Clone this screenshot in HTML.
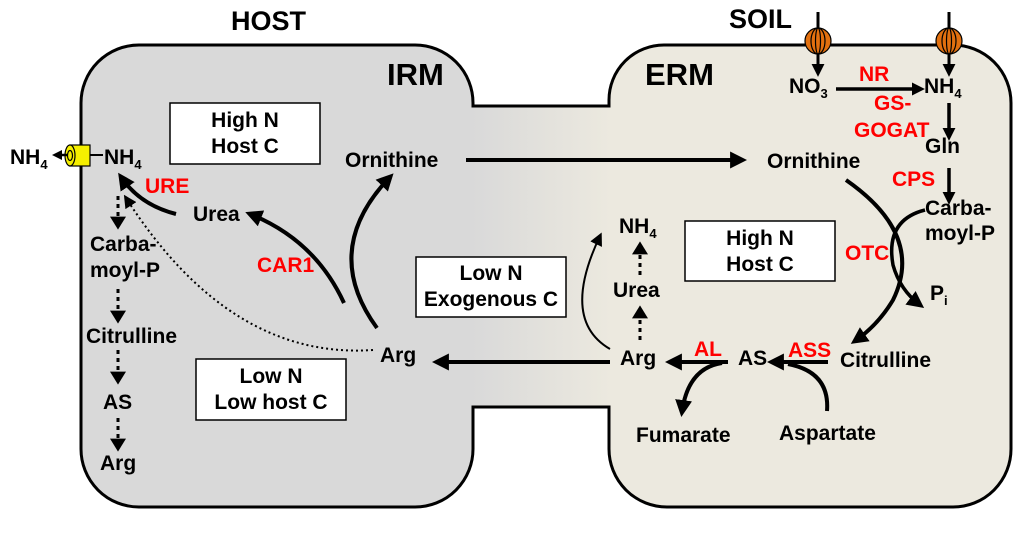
<!DOCTYPE html>
<html><head><meta charset="utf-8"><style>
html,body{margin:0;padding:0;background:#fff}
svg{display:block}
text{font-family:"Liberation Sans",Arial,sans-serif;font-weight:bold}
</style></head><body>
<svg width="1024" height="533" viewBox="0 0 1024 533" xmlns="http://www.w3.org/2000/svg">
<defs>
<linearGradient id="g" x1="81" y1="0" x2="1011" y2="0" gradientUnits="userSpaceOnUse">
<stop offset="0" stop-color="#d9d9d9"/><stop offset="0.42" stop-color="#d9d9d9"/>
<stop offset="0.57" stop-color="#ece9df"/><stop offset="1" stop-color="#ece9df"/></linearGradient>
<marker id="a" viewBox="0 0 10 10" refX="7" refY="5" markerWidth="17" markerHeight="17" orient="auto" markerUnits="userSpaceOnUse"><path d="M0,0L10,5L0,10z" fill="#000"/></marker>
<marker id="m" viewBox="0 0 10 10" refX="7" refY="5" markerWidth="13" markerHeight="13" orient="auto" markerUnits="userSpaceOnUse"><path d="M0,0L10,5L0,10z" fill="#000"/></marker>
<marker id="s" viewBox="0 0 10 10" refX="7" refY="5" markerWidth="10" markerHeight="10" orient="auto" markerUnits="userSpaceOnUse"><path d="M0,0L10,5L0,10z" fill="#000"/></marker>
<marker id="d" viewBox="0 0 10 10" refX="8" refY="5" markerWidth="13" markerHeight="16" orient="auto" markerUnits="userSpaceOnUse" preserveAspectRatio="none"><path d="M0,0L10,5L0,10z" fill="#000"/></marker>
</defs>
<path d="M139,45 H415 A58,58 0 0 1 473,103 V106 H609 V100 A55,55 0 0 1 664,45 H953 A58,58 0 0 1 1011,103 V449 A58,58 0 0 1 953,507 H667 A58,58 0 0 1 609,449 V407 H473 V449 A58,58 0 0 1 415,507 H139 A58,58 0 0 1 81,449 V103 A58,58 0 0 1 139,45 Z" fill="url(#g)" stroke="#000" stroke-width="3"/>
<g font-size="27"><text x="231" y="30">HOST</text><text x="729" y="28">SOIL</text></g>
<g font-size="31"><text x="387" y="85">IRM</text><text x="645" y="85">ERM</text></g>
<g fill="#fff" stroke="#000" stroke-width="1.5">
<rect x="170" y="103" width="150" height="61"/><rect x="196" y="359" width="150" height="61"/>
<rect x="416" y="257" width="150" height="60"/><rect x="685" y="221" width="150" height="60"/></g>
<g font-size="21" text-anchor="middle">
<text x="245" y="127">High N</text><text x="245" y="153">Host C</text>
<text x="271" y="383">Low N</text><text x="271" y="409">Low host C</text>
<text x="491" y="280">Low N</text><text x="491" y="306">Exogenous C</text>
<text x="760" y="245">High N</text><text x="760" y="271">Host C</text></g>
<g font-size="21">
<text x="10" y="164">NH<tspan font-size="13" dy="5">4</tspan></text>
<text x="104" y="164">NH<tspan font-size="13" dy="5">4</tspan></text>
<text x="193" y="221">Urea</text>
<text x="345" y="167">Ornithine</text>
<text x="90" y="251">Carba-</text><text x="90" y="277">moyl-P</text>
<text x="86" y="343">Citrulline</text>
<text x="103" y="409">AS</text><text x="100" y="470">Arg</text>
<text x="380" y="362">Arg</text>
<text x="767" y="168">Ornithine</text>
<text x="789" y="93">NO<tspan font-size="13" dy="5">3</tspan></text>
<text x="924" y="93">NH<tspan font-size="13" dy="5">4</tspan></text>
<text x="925" y="153">Gln</text>
<text x="925" y="215">Carba-</text><text x="925" y="240">moyl-P</text>
<text x="930" y="300">P<tspan font-size="13" dy="5">i</tspan></text>
<text x="619" y="233">NH<tspan font-size="13" dy="5">4</tspan></text>
<text x="613" y="297">Urea</text>
<text x="620" y="365">Arg</text><text x="738" y="365">AS</text>
<text x="840" y="367">Citrulline</text>
<text x="636" y="442">Fumarate</text><text x="779" y="440">Aspartate</text></g>
<g font-size="21" fill="#f00">
<text x="145" y="193">URE</text><text x="257" y="272">CAR1</text>
<text x="859" y="81">NR</text><text x="874" y="110">GS-</text><text x="854" y="137">GOGAT</text>
<text x="892" y="186">CPS</text><text x="845" y="260">OTC</text>
<text x="694" y="356">AL</text><text x="788" y="357">ASS</text></g>
<g fill="none" stroke="#000">
<path d="M466,160 H742" stroke-width="4" marker-end="url(#a)"/>
<path d="M610,362 H437" stroke-width="4" marker-end="url(#a)"/>
<path d="M176,214 Q140,205 121,177" stroke-width="4" marker-end="url(#a)"/>
<path d="M344,303 Q315,240 250,214" stroke-width="4" marker-end="url(#a)"/>
<path d="M377,328 Q320,250 390,177" stroke-width="4" marker-end="url(#a)"/>
<path d="M373,350 Q230,360 126,198" stroke-width="2" stroke-dasharray="2,3" marker-end="url(#m)"/>
<g stroke-width="3" stroke-dasharray="4,4" marker-end="url(#d)">
<path d="M118,196 V227"/><path d="M118,289 V321"/><path d="M118,350 V382"/><path d="M118,418 V449"/>
<path d="M640,340 V308"/><path d="M640,275 V244"/></g>
<path d="M610,349 Q560,320 600,236" stroke-width="2" marker-end="url(#m)"/>
<path d="M818,12 V73" stroke-width="3" marker-end="url(#m)"/>
<path d="M949,12 V73" stroke-width="3" marker-end="url(#m)"/>
<path d="M836,89 H921" stroke-width="3.5" marker-end="url(#m)"/>
<path d="M949,103 V137" stroke-width="3.5" marker-end="url(#m)"/>
<path d="M949,168 V201" stroke-width="3.5" marker-end="url(#m)"/>
<path d="M846,180 Q925,235 893,300 Q878,325 855,341" stroke-width="4" marker-end="url(#a)"/>
<path d="M925,210 Q885,220 893,265 Q900,290 920,305" stroke-width="3.5" marker-end="url(#a)"/>
<path d="M828,362 H772" stroke-width="4" marker-end="url(#a)"/>
<path d="M827,411 Q830,372 788,364" stroke-width="4"/>
<path d="M728,362 H670" stroke-width="4" marker-end="url(#a)"/>
<path d="M722,363 Q688,368 682,412" stroke-width="4" marker-end="url(#a)"/>
</g>
<g stroke="#000" stroke-width="1.2">
<ellipse cx="818" cy="41" rx="13" ry="13" fill="#e2700f"/>
<ellipse cx="818" cy="41" rx="7" ry="13" fill="none"/>
<ellipse cx="818" cy="41" rx="2.5" ry="13" fill="none"/>
<ellipse cx="949" cy="41" rx="13" ry="13" fill="#e2700f"/>
<ellipse cx="949" cy="41" rx="7" ry="13" fill="none"/>
<ellipse cx="949" cy="41" rx="2.5" ry="13" fill="none"/>
<line x1="90" y1="155" x2="103" y2="155" stroke-width="2"/>
<rect x="70" y="145" width="20" height="21" fill="#f5ef00"/>
<ellipse cx="70" cy="155.5" rx="5" ry="10.5" fill="#f5ef00"/>
<ellipse cx="70" cy="155.5" rx="2.5" ry="5" fill="none"/>
<path d="M68,155 H55" stroke-width="2.5" marker-end="url(#s)" fill="none"/>
</g>
</svg>
</body></html>
